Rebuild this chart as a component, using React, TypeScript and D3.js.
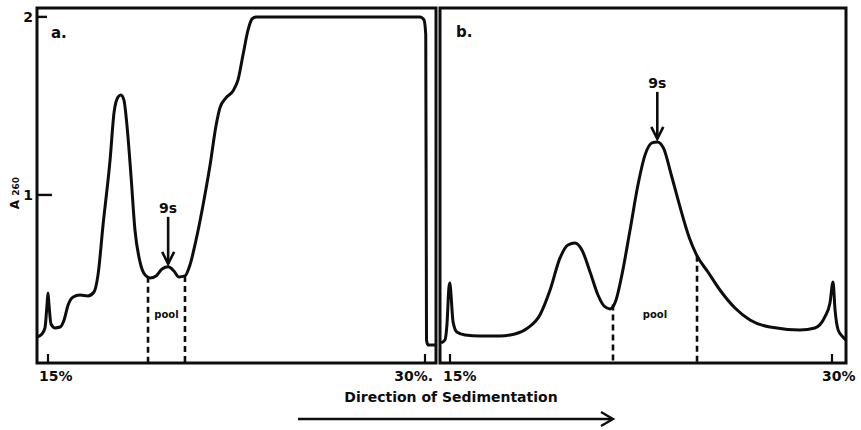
import React, { useEffect, useRef } from 'react';
import * as d3 from 'd3';

// panel a: gradient position (% sucrose) and absorbance
const gradientA = [14.56, 14.76, 14.88, 14.96, 15.0, 15.04, 15.12, 15.28, 15.48, 15.64, 15.8, 16.0, 16.27, 16.59,
    16.83, 16.99, 17.19, 17.47, 17.63, 17.79, 17.9, 18.02, 18.14, 18.3, 18.46, 18.66, 18.86, 19.06, 19.3, 19.54,
    19.78, 20.01, 20.21, 20.45, 20.65, 20.89, 21.17, 21.45, 21.69, 21.84, 22.08, 22.36, 22.56, 22.76, 22.96, 23.12,
    23.28, 26.0, 29.8, 29.96, 30.03, 30.06, 30.12, 30.4];
const absorbA = [0.202, 0.219, 0.253, 0.382, 0.449, 0.382, 0.275, 0.253, 0.258, 0.298, 0.382, 0.427, 0.438, 0.433,
    0.455, 0.551, 0.831, 1.197, 1.466, 1.551, 1.562, 1.534, 1.393, 1.112, 0.803, 0.624, 0.551, 0.534, 0.545, 0.584,
    0.596, 0.573, 0.539, 0.545, 0.607, 0.747, 0.944, 1.169, 1.393, 1.489, 1.545, 1.584, 1.646, 1.787, 1.927, 1.989,
    2.0, 2.0, 2.0, 1.983, 1.899, 0.185, 0.157, 0.157];

// panel b
const gradientB = [14.65, 14.8, 14.88, 14.96, 15.0, 15.04, 15.12, 15.27, 15.59, 16.18, 16.96, 17.55, 18.06, 18.53,
    18.93, 19.32, 19.63, 19.91, 20.18, 20.5, 20.81, 21.05, 21.28, 21.52, 21.75, 22.07, 22.38, 22.66, 22.93, 23.14,
    23.38, 23.69, 24.01, 24.4, 24.68, 25.13, 25.6, 26.19, 26.78, 27.56, 28.74, 29.33, 29.72, 29.92, 30.04, 30.12,
    30.24, 30.43, 30.55];
const absorbB = [0.169, 0.185, 0.27, 0.483, 0.506, 0.438, 0.287, 0.23, 0.213, 0.208, 0.208, 0.219, 0.253, 0.326,
    0.466, 0.646, 0.719, 0.73, 0.691, 0.567, 0.438, 0.376, 0.36, 0.41, 0.551, 0.803, 1.056, 1.225, 1.292, 1.298,
    1.264, 1.112, 0.944, 0.758, 0.663, 0.567, 0.466, 0.365, 0.298, 0.258, 0.242, 0.253, 0.315, 0.393, 0.511, 0.354,
    0.242, 0.202, 0.185];

const xTicks = [15, 30];
const xTickLabelsA = ['15%', '30%.'];
const xTickLabelsB = ['15%', '30%'];
const yTicks = [1, 2];
const poolA = [18.98, 20.45];
const poolB = [21.4, 24.7];
const peak9sA = 19.78;
const peak9sB = 23.14;

const FONT = '"DejaVu Sans", "Liberation Sans", Arial, sans-serif';
const INK = '#0d0d0d';

// value of the trace at a gradient position (linear between read points)
const valueAt = (xs, ys, x) => {
    const i = d3.bisector((d) => d).left(xs, x);
    if (i <= 0) return ys[0];
    if (i >= xs.length) return ys[ys.length - 1];
    const t = (x - xs[i - 1]) / (xs[i] - xs[i - 1]);
    return ys[i - 1] + t * (ys[i] - ys[i - 1]);
};

const drawPanel = (svg, opts) => {
    const {
        x, y, xs, ys, frame, labels, pool, peak, letter, letterPos, tickLabelAnchor,
    } = opts;
    const g = svg.append('g');

    // frame
    g.append('rect')
        .attr('x', frame.left)
        .attr('y', frame.top)
        .attr('width', frame.right - frame.left)
        .attr('height', frame.bottom - frame.top)
        .attr('fill', 'none')
        .attr('stroke', INK)
        .attr('stroke-width', 3);

    // x ticks
    xTicks.forEach((t, i) => {
        g.append('line')
            .attr('x1', x(t)).attr('x2', x(t))
            .attr('y1', frame.bottom - 9).attr('y2', frame.bottom)
            .attr('stroke', INK).attr('stroke-width', 2.2);
        g.append('text')
            .attr('x', x(t) + tickLabelAnchor[i][1])
            .attr('y', 381)
            .attr('text-anchor', tickLabelAnchor[i][0])
            .attr('font-family', FONT)
            .attr('font-weight', 'bold')
            .attr('font-size', 14)
            .attr('fill', INK)
            .text(labels[i]);
    });

    // trace
    const line = d3.line()
        .x((d, i) => x(xs[i]))
        .y((d) => y(d))
        .curve(d3.curveMonotoneX);
    g.append('path')
        .attr('d', line(ys))
        .attr('fill', 'none')
        .attr('stroke', INK)
        .attr('stroke-width', 3)
        .attr('stroke-linejoin', 'round');

    // pooled fractions
    pool.forEach((p) => {
        g.append('line')
            .attr('x1', x(p)).attr('x2', x(p))
            .attr('y1', y(valueAt(xs, ys, p)))
            .attr('y2', frame.bottom)
            .attr('stroke', INK)
            .attr('stroke-width', 2.6)
            .attr('stroke-dasharray', '6,4');
    });
    g.append('text')
        .attr('x', (x(pool[0]) + x(pool[1])) / 2)
        .attr('y', y(0.31))
        .attr('text-anchor', 'middle')
        .attr('font-family', FONT)
        .attr('font-weight', 'bold')
        .attr('font-size', 10)
        .attr('fill', INK)
        .text('pool');

    // 9s arrow
    const px = x(peak);
    const tip = y(valueAt(xs, ys, peak)) - 3;
    g.append('line')
        .attr('x1', px).attr('x2', px)
        .attr('y1', tip - 47).attr('y2', tip)
        .attr('stroke', INK).attr('stroke-width', 2.6);
    g.append('path')
        .attr('d', `M${px - 6},${tip - 12}L${px},${tip}L${px + 6},${tip - 12}`)
        .attr('fill', 'none')
        .attr('stroke', INK)
        .attr('stroke-width', 2.6);
    g.append('text')
        .attr('x', px)
        .attr('y', tip - 51)
        .attr('text-anchor', 'middle')
        .attr('font-family', FONT)
        .attr('font-weight', 'bold')
        .attr('font-size', 14)
        .attr('fill', INK)
        .text('9s');

    // panel letter
    g.append('text')
        .attr('x', letterPos[0])
        .attr('y', letterPos[1])
        .attr('font-family', FONT)
        .attr('font-weight', 'bold')
        .attr('font-size', 15)
        .attr('fill', INK)
        .text(letter);
};

const Chart = () => {
    const ref = useRef(null);

    useEffect(() => {
        const root = d3.select(ref.current);
        root.selectAll('*').remove();
        const svg = root.append('svg')
            .attr('width', 861)
            .attr('height', 430)
            .style('background', '#fff');

        const y = d3.scaleLinear().domain([0.056, 2.05]).range([363, 8]);
        const xA = d3.scaleLinear().domain([15, 30]).range([48, 425]);
        const xB = d3.scaleLinear().domain([15, 30]).range([450, 832]);

        drawPanel(svg, {
            x: xA,
            y,
            xs: gradientA,
            ys: absorbA,
            frame: { left: 37, right: 436, top: 8, bottom: 363 },
            labels: xTickLabelsA,
            tickLabelAnchor: [['start', -9], ['end', 8]],
            pool: poolA,
            peak: peak9sA,
            letter: 'a.',
            letterPos: [51, 38],
        });
        drawPanel(svg, {
            x: xB,
            y,
            xs: gradientB,
            ys: absorbB,
            frame: { left: 440, right: 846, top: 8, bottom: 363 },
            labels: xTickLabelsB,
            tickLabelAnchor: [['start', -7], ['start', -10]],
            pool: poolB,
            peak: peak9sB,
            letter: 'b.',
            letterPos: [456, 37],
        });

        // y axis ticks, drawn inward on panel a
        yTicks.forEach((t) => {
            svg.append('line')
                .attr('x1', 37).attr('x2', t === 2 ? 47 : 52)
                .attr('y1', y(t)).attr('y2', y(t))
                .attr('stroke', INK).attr('stroke-width', 2.4);
            svg.append('text')
                .attr('x', 33)
                .attr('y', y(t) + 5)
                .attr('text-anchor', 'end')
                .attr('font-family', FONT)
                .attr('font-weight', 'bold')
                .attr('font-size', 14)
                .attr('fill', INK)
                .text(t);
        });

        // y axis title
        const yt = svg.append('text')
            .attr('transform', 'translate(19,193) rotate(-90)')
            .attr('text-anchor', 'middle')
            .attr('font-family', FONT)
            .attr('font-weight', 'bold')
            .attr('fill', INK);
        yt.append('tspan').attr('font-size', 12).text('A ');
        yt.append('tspan').attr('font-size', 9).text('260');

        // x axis title and direction arrow
        svg.append('text')
            .attr('x', 451)
            .attr('y', 402)
            .attr('text-anchor', 'middle')
            .attr('font-family', FONT)
            .attr('font-weight', 'bold')
            .attr('font-size', 14)
            .attr('fill', INK)
            .text('Direction of Sedimentation');
        svg.append('line')
            .attr('x1', 298).attr('x2', 612)
            .attr('y1', 419).attr('y2', 419)
            .attr('stroke', INK).attr('stroke-width', 2.4);
        svg.append('path')
            .attr('d', 'M601,412L613,419L601,426')
            .attr('fill', 'none')
            .attr('stroke', INK)
            .attr('stroke-width', 2.4);
    }, []);

    return <div ref={ref} style={{ position: 'absolute', left: 0, top: 0 }} />;
};

export default function App() {
    return <Chart />;
}
